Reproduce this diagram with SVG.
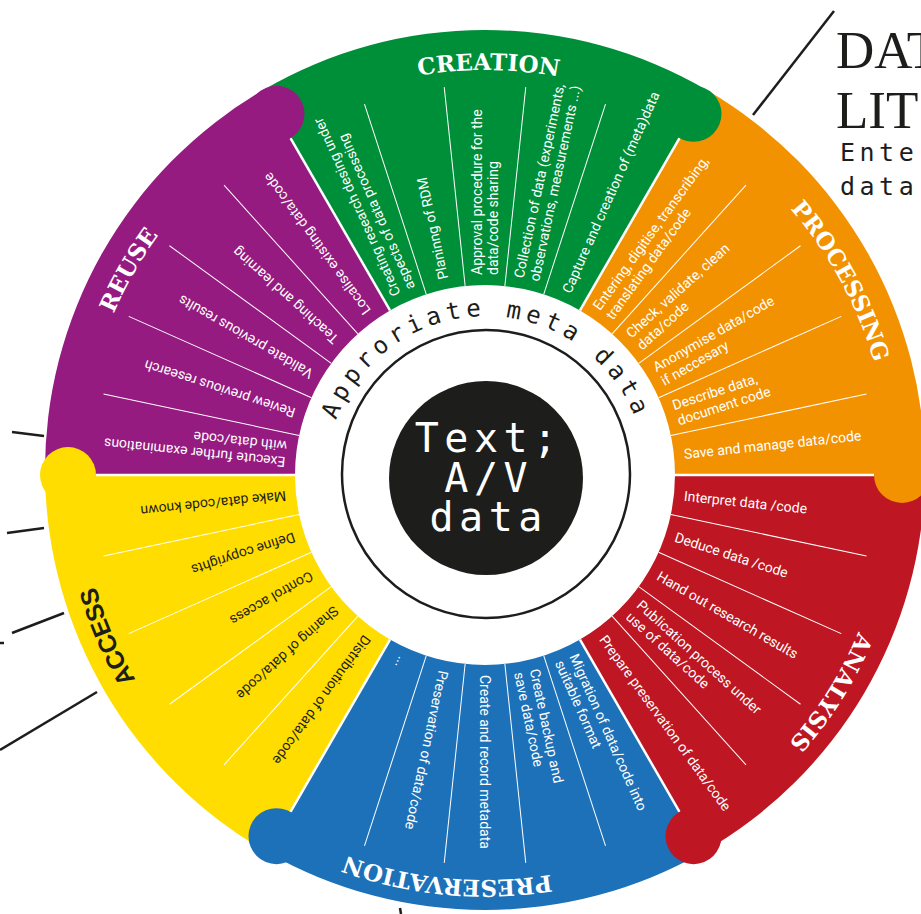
<svg xmlns="http://www.w3.org/2000/svg" width="921" height="914" viewBox="0 0 921 914">
<style>
.item{font-family:Roboto,"Liberation Sans",sans-serif;font-size:14px;fill:#fff}
.dark{fill:#1d1d1b}
.sep{stroke:#fff;stroke-width:1}
.bound{stroke:#fff;stroke-width:2.5}
.label{font-family:"DejaVu Serif","Liberation Serif",serif;font-weight:bold;font-size:23px;fill:#fff}
.label2{font-family:"Liberation Sans",Arial,sans-serif;font-weight:bold;font-size:25px;fill:#1d1d1b;letter-spacing:-0.5px}
.conn{stroke:#1d1d1b;stroke-width:2.5;fill:none}
.mono{font-family:"DejaVu Sans Mono","Liberation Mono",monospace}
</style>
<defs>
<path id="lblArc" d="M -260.3,-310.3 A 405 405 0 0 1 260.3,-310.3"/>
<path id="metaArc" d="M -160,0 A 160 160 0 0 1 160,0"/>
</defs>
<rect width="921" height="914" fill="#fff"/>

<g id="reuse">
<path d="M 295,475 L 45.03,475 A 440 440 0 0 1 262.84,90.21 L 390,310.46 A 190 190 0 0 0 295,475 Z" fill="#951b81"/>
<g transform="translate(485,475)">
<line class="sep" x1="190" x2="390" transform="rotate(-168)"/>
<line class="sep" x1="190" x2="390" transform="rotate(-156)"/>
<line class="sep" x1="190" x2="390" transform="rotate(-144)"/>
<line class="sep" x1="190" x2="390" transform="rotate(-132)"/>
<text class="item" transform="rotate(-174)"><tspan x="200" y="-3.2">Execute further examinations</tspan><tspan x="200" y="12.8">with data/code</tspan></text>
<text class="item" transform="rotate(-162)" x="200" y="4.8">Review previous research</text>
<text class="item" transform="rotate(-150)" x="200" y="4.8">Validate previous results</text>
<text class="item" transform="rotate(-138)" x="200" y="4.8">Teaching and learning</text>
<text class="item" transform="rotate(-126)" x="200" y="4.8">Localise existing data/code</text>
</g>
<g transform="translate(485,475) rotate(-60.1)"><text class="label"><textPath href="#lblArc" startOffset="50%" text-anchor="middle">REUSE</textPath></text></g>
</g>

<g id="creation">
<path d="M 390,310.46 L 262.84,90.21 A 440 440 0 0 1 707.16,90.21 L 580,310.46 A 190 190 0 0 0 390,310.46 Z" fill="#008f39"/>
<g transform="translate(485,475)">
<line class="sep" x1="190" x2="390" transform="rotate(-108)"/>
<line class="sep" x1="190" x2="390" transform="rotate(-96)"/>
<line class="sep" x1="190" x2="390" transform="rotate(-84)"/>
<line class="sep" x1="190" x2="390" transform="rotate(-72)"/>
<text class="item" transform="rotate(-114)"><tspan x="200" y="-3.2">Creating research desing under</tspan><tspan x="200" y="12.8">aspects of data processing</tspan></text>
<text class="item" transform="rotate(-102)" x="200" y="4.8">Planinng of RDM</text>
<text class="item" transform="rotate(-90)"><tspan x="200" y="-3.2">Approval procedure for the</tspan><tspan x="200" y="12.8">data/code sharing</tspan></text>
<text class="item" transform="rotate(-78)"><tspan x="200" y="-3.2">Collection of data (experiments,</tspan><tspan x="200" y="12.8">observations, measurements ...)</tspan></text>
<text class="item" transform="rotate(-66)" x="200" y="4.8">Capture and creation of (meta)data</text>
</g>
<g transform="translate(485,475) rotate(0.5)"><text class="label"><textPath href="#lblArc" startOffset="50%" text-anchor="middle">CREATION</textPath></text></g>
</g>

<g id="processing">
<path d="M 580,310.46 L 707.16,90.21 A 440 440 0 0 1 924.97,475 L 675,475 A 190 190 0 0 0 580,310.46 Z" fill="#f39200"/>
<g transform="translate(485,475)">
<line class="sep" x1="190" x2="390" transform="rotate(-48)"/>
<line class="sep" x1="190" x2="390" transform="rotate(-36)"/>
<line class="sep" x1="190" x2="390" transform="rotate(-24)"/>
<line class="sep" x1="190" x2="390" transform="rotate(-12)"/>
<text class="item" transform="rotate(-54)"><tspan x="200" y="-3.2">Entering, digitise, transcribing,</tspan><tspan x="200" y="12.8">translating data/code</tspan></text>
<text class="item" transform="rotate(-42)"><tspan x="200" y="-3.2">Check, validate, clean</tspan><tspan x="200" y="12.8">data/code</tspan></text>
<text class="item" transform="rotate(-30)"><tspan x="200" y="-3.2">Anonymise data/code</tspan><tspan x="200" y="12.8">if neccesary</tspan></text>
<text class="item" transform="rotate(-18)"><tspan x="200" y="-3.2">Describe data,</tspan><tspan x="200" y="12.8">document code</tspan></text>
<text class="item" transform="rotate(-6)" x="200" y="4.8">Save and manage data/code</text>
</g>
<g transform="translate(485,475) rotate(61.4)"><text class="label"><textPath href="#lblArc" startOffset="50%" text-anchor="middle">PROCESSING</textPath></text></g>
</g>

<g id="analysis">
<path d="M 675,475 L 924.97,475 A 440 440 0 0 1 702.83,852.29 L 580,639.54 A 190 190 0 0 0 675,475 Z" fill="#be1622"/>
<g transform="translate(485,475)">
<line class="sep" x1="190" x2="390" transform="rotate(12)"/>
<line class="sep" x1="190" x2="390" transform="rotate(24)"/>
<line class="sep" x1="190" x2="390" transform="rotate(36)"/>
<line class="sep" x1="190" x2="390" transform="rotate(48)"/>
<text class="item" transform="rotate(6)" x="200" y="4.8">Interpret data /code</text>
<text class="item" transform="rotate(18)" x="200" y="4.8">Deduce data /code</text>
<text class="item" transform="rotate(30)" x="200" y="4.8">Hand out research results</text>
<text class="item" transform="rotate(42)"><tspan x="200" y="-3.2">Publication process under</tspan><tspan x="200" y="12.8">use of data/code</tspan></text>
<text class="item" transform="rotate(54)" x="200" y="4.8">Prepare preservation of data/code</text>
</g>
<g transform="translate(485,475) rotate(122.1)"><text class="label"><textPath href="#lblArc" startOffset="50%" text-anchor="middle">ANALYSIS</textPath></text></g>
</g>

<g id="preservation">
<path d="M 580,639.54 L 702.83,852.29 A 440 440 0 0 1 267.17,852.29 L 390,639.54 A 190 190 0 0 0 580,639.54 Z" fill="#1d71b8"/>
<g transform="translate(485,475)">
<line class="sep" x1="190" x2="390" transform="rotate(72)"/>
<line class="sep" x1="190" x2="390" transform="rotate(84)"/>
<line class="sep" x1="190" x2="390" transform="rotate(96)"/>
<line class="sep" x1="190" x2="390" transform="rotate(108)"/>
<text class="item" transform="rotate(66)"><tspan x="200" y="-3.2">Migration of data/code into</tspan><tspan x="200" y="12.8">suitable format</tspan></text>
<text class="item" transform="rotate(78)"><tspan x="200" y="-3.2">Create backup and</tspan><tspan x="200" y="12.8">save data/code</tspan></text>
<text class="item" transform="rotate(90)" x="200" y="4.8">Create and record metadata</text>
<text class="item" transform="rotate(102)" x="200" y="4.8">Preservation of data/code</text>
<text class="item" transform="rotate(114)" x="200" y="4.8">...</text>
</g>
<g transform="translate(485,475) rotate(185.4)"><text class="label"><textPath href="#lblArc" startOffset="50%" text-anchor="middle">PRESERVATION</textPath></text></g>
</g>

<g id="access">
<path d="M 390,639.54 L 267.17,852.29 A 440 440 0 0 1 45.03,475 L 295,475 A 190 190 0 0 0 390,639.54 Z" fill="#ffdd00"/>
<g transform="translate(485,475)">
<line class="sep" x1="190" x2="390" transform="rotate(132)"/>
<line class="sep" x1="190" x2="390" transform="rotate(144)"/>
<line class="sep" x1="190" x2="390" transform="rotate(156)"/>
<line class="sep" x1="190" x2="390" transform="rotate(168)"/>
<text class="item dark" transform="rotate(126)" x="200" y="4.8">Distribution of data/code</text>
<text class="item dark" transform="rotate(138)" x="200" y="4.8">Sharing of data/code</text>
<text class="item dark" transform="rotate(150)" x="200" y="4.8">Control access</text>
<text class="item dark" transform="rotate(162)" x="200" y="4.8">Define copyrights</text>
<text class="item dark" transform="rotate(174)" x="200" y="4.8">Make data/code known</text>
</g>
<g transform="translate(485,475) rotate(-113.2)"><text class="label2"><textPath href="#lblArc" startOffset="50%" text-anchor="middle">ACCESS</textPath></text></g>
</g>

<g id="boundaries" transform="translate(485,475)">
<line class="bound" x1="190" x2="389"/>
<line class="bound" x1="190" x2="389" transform="rotate(-60)"/>
<line class="bound" x1="190" x2="389" transform="rotate(-120)"/>
<line class="bound" x1="190" x2="389" transform="rotate(180)"/>
<line class="bound" x1="190" x2="389" transform="rotate(60)"/>
<line class="bound" x1="190" x2="389" transform="rotate(120)"/>
</g>

<g id="caps">
<circle cx="276.5" cy="113.87" r="28" fill="#951b81"/>
<circle cx="693.5" cy="113.87" r="28" fill="#008f39"/>
<circle cx="902" cy="475" r="28" fill="#f39200"/>
<circle cx="693.5" cy="836.13" r="28" fill="#be1622"/>
<circle cx="276.5" cy="836.13" r="28" fill="#1d71b8"/>
<circle cx="68" cy="475" r="28" fill="#ffdd00"/>
</g>

<g id="meta">
<circle cx="486" cy="474" r="144" fill="none" stroke="#1d1d1b" stroke-width="2.5"/>
<g transform="translate(486,476)"><text class="mono" font-size="24" letter-spacing="5" fill="#1d1d1b"><textPath href="#metaArc" startOffset="50%" text-anchor="middle">Approriate meta data</textPath></text></g>
</g>

<g id="core">
<circle cx="486" cy="478" r="97" fill="#1d1d1b"/>
<text class="mono" font-size="40" letter-spacing="5.5" fill="#fff" text-anchor="middle"><tspan x="488.7" y="452">Text;</tspan><tspan x="488.7" y="492">A/V</tspan><tspan x="488.7" y="531">data</tspan></text>
</g>

<g id="connectors">
<line class="conn" x1="753" y1="115" x2="834" y2="11"/>
<line class="conn" x1="12" y1="432" x2="44" y2="436"/>
<line class="conn" x1="7" y1="533" x2="44" y2="528"/>
<line class="conn" x1="12" y1="633" x2="64" y2="613"/>
<line class="conn" x1="0" y1="643" x2="4" y2="643"/>
<line class="conn" x1="0" y1="750" x2="97" y2="692"/>
<line class="conn" x1="400" y1="908" x2="401" y2="914"/>
</g>

<g id="title">
<text font-family="Liberation Serif,serif" font-size="53" fill="#1d1d1b" x="836" y="68">DAT</text>
<text font-family="Liberation Serif,serif" font-size="53" fill="#1d1d1b" x="836" y="128">LIT</text>
<text class="mono" font-size="25" letter-spacing="4.5" fill="#1d1d1b" x="840" y="161">Ente</text>
<text class="mono" font-size="25" letter-spacing="4.5" fill="#1d1d1b" x="840" y="195">data</text>
</g>
</svg>
